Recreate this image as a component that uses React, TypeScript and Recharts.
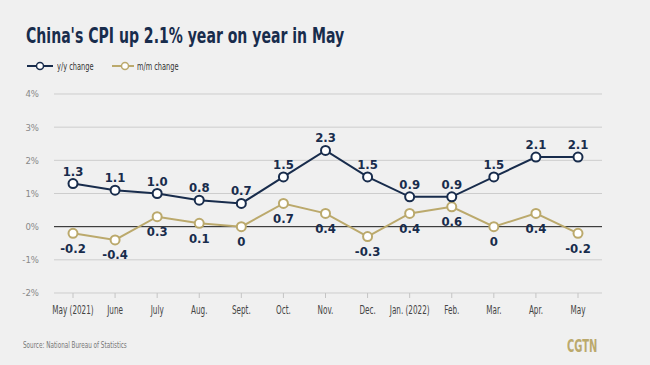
import React from "react";
import {
  LineChart,
  Line,
  XAxis,
  YAxis,
  CartesianGrid,
  ReferenceLine,
  LabelList,
} from "recharts";

const months = [
  "May (2021)", "June", "July", "Aug.", "Sept.", "Oct.", "Nov.",
  "Dec.", "Jan. (2022)", "Feb.", "Mar.", "Apr.", "May",
];
const yoy = [1.3, 1.1, 1.0, 0.8, 0.7, 1.5, 2.3, 1.5, 0.9, 0.9, 1.5, 2.1, 2.1];
const mom = [-0.2, -0.4, 0.3, 0.1, 0, 0.7, 0.4, -0.3, 0.4, 0.6, 0, 0.4, -0.2];
const yTicks = [-2, -1, 0, 1, 2, 3, 4];

const NAVY = "#182c4c";
const GOLD = "#bba96c";
const FONT = "'DejaVu Sans Condensed', sans-serif";

const data = months.map((m, i) => ({ month: m, yoy: yoy[i], mom: mom[i] }));

const fmt = (v: number) => (v === 0 ? "0" : v.toFixed(1));

// squeeze text horizontally to get close to the narrow DIN look
function MonthTick({ x, y, payload }: any) {
  return (
    <text
      transform={`translate(${x},${y + 14}) scale(0.7,1)`}
      textAnchor="middle"
      fontSize={11.5}
      fill="#444"
      fontFamily={FONT}
    >
      {payload.value}
    </text>
  );
}

function LegendItem({ color, label }: { color: string; label: string }) {
  return (
    <div style={{ display: "flex", alignItems: "center", width: 85 }}>
      <svg width={28} height={10}>
        <line x1={1} y1={5} x2={27} y2={5} stroke={color} strokeWidth={2} />
        <circle cx={14} cy={5} r={3.5} fill="#fff" stroke={color} strokeWidth={1.5} />
      </svg>
      <span
        style={{
          fontSize: 10.5,
          color: "#333",
          marginLeft: 3,
          display: "inline-block",
          transform: "scaleX(0.7)",
          transformOrigin: "left center",
          whiteSpace: "nowrap",
        }}
      >
        {label}
      </span>
    </div>
  );
}

export default function App() {
  return (
    <div
      style={{
        position: "fixed",
        top: 0,
        left: 0,
        width: 650,
        height: 365,
        background: "#f0f0f0",
        fontFamily: FONT,
        overflow: "hidden",
      }}
    >
      <div
        style={{
          position: "absolute",
          left: 26,
          top: 23,
          fontSize: 22,
          fontWeight: 700,
          color: NAVY,
          whiteSpace: "nowrap",
          transform: "scaleX(0.71)",
          transformOrigin: "left top",
        }}
      >
        China's CPI up 2.1% year on year in May
      </div>
      <div style={{ position: "absolute", left: 26, top: 60, display: "flex" }}>
        <LegendItem color={NAVY} label="y/y change" />
        <LegendItem color={GOLD} label="m/m change" />
      </div>

      <LineChart
        width={650}
        height={365}
        data={data}
        margin={{ top: 94, right: 48, left: 0, bottom: 0 }}
      >
        <CartesianGrid vertical={false} stroke="#cdcdcd" />
        <XAxis
          dataKey="month"
          height={72}
          axisLine={false}
          tickLine={{ stroke: "#c4c4c4" }}
          tickSize={5}
          interval={0}
          padding={{ left: 19, right: 24 }}
          tick={<MonthTick />}
        />
        <YAxis
          width={54}
          domain={[-2, 4]}
          ticks={yTicks}
          axisLine={false}
          tickLine={false}
          tickMargin={9}
          tickFormatter={(v: number) => `${v}%`}
          tick={{ fontSize: 9.5, fill: "#888", fontFamily: FONT }}
        />
        <ReferenceLine y={0} stroke="#222" strokeWidth={1} />
        <Line
          dataKey="mom"
          stroke={GOLD}
          strokeWidth={2}
          dot={{ r: 4.5, fill: "#fff", stroke: GOLD, strokeWidth: 2 }}
          isAnimationActive={false}
        >
          <LabelList
            dataKey="mom"
            position="bottom"
            offset={10}
            formatter={fmt}
            style={{ fontSize: 13, fontWeight: 700, fill: NAVY, fontFamily: FONT }}
          />
        </Line>
        <Line
          dataKey="yoy"
          stroke={NAVY}
          strokeWidth={2}
          dot={{ r: 4.5, fill: "#fff", stroke: NAVY, strokeWidth: 2 }}
          isAnimationActive={false}
        >
          <LabelList
            dataKey="yoy"
            position="top"
            offset={8}
            formatter={fmt}
            style={{ fontSize: 13, fontWeight: 700, fill: NAVY, fontFamily: FONT }}
          />
        </Line>
      </LineChart>

      <div
        style={{
          position: "absolute",
          left: 23,
          top: 340,
          fontSize: 9,
          color: "#777",
          whiteSpace: "nowrap",
          transform: "scaleX(0.7)",
          transformOrigin: "left top",
        }}
      >
        Source: National Bureau of Statistics
      </div>
      <div
        style={{
          position: "absolute",
          left: 567,
          top: 336,
          fontSize: 17,
          fontWeight: 700,
          color: GOLD,
          transform: "scaleX(0.65)",
          transformOrigin: "left top",
        }}
      >
        CGTN
      </div>
    </div>
  );
}
